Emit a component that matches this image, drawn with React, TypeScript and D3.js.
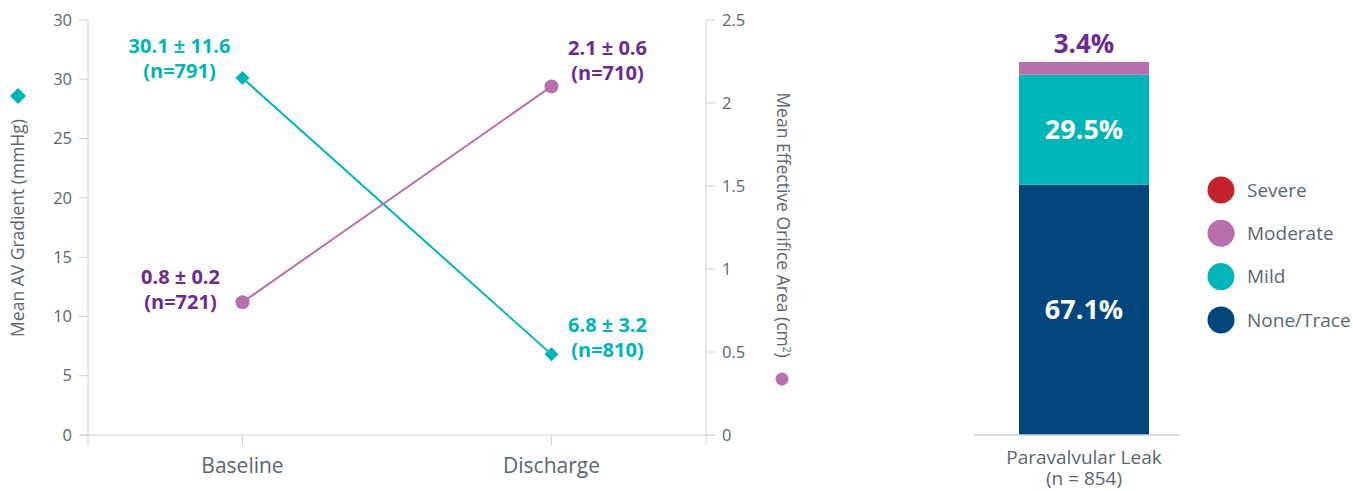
import React from "react";
import * as d3 from "d3";

const timepoints = ["Baseline", "Discharge"];
const gradientMean = [30.1, 6.8];
const gradientSD = [11.6, 3.2];
const gradientN = [791, 810];
const eoaMean = [0.8, 2.1];
const eoaSD = [0.2, 0.6];
const eoaN = [721, 710];
const leftTicks = [0, 5, 10, 15, 20, 25, 30, 35];
const leftTickLabels = ["0", "5", "10", "15", "20", "25", "30", "30"];
const rightTicks = [0, 0.5, 1, 1.5, 2, 2.5];
const rightTickLabels = ["0", "0.5", "1", "1.5", "2", "2.5"];

const pvlCategory = "Paravalvular Leak";
const pvlN = 854;
const pvlLevels = ["None/Trace", "Mild", "Moderate", "Severe"];
const pvlValues = [67.1, 29.5, 3.4, 0];
const legendOrder = ["Severe", "Moderate", "Mild", "None/Trace"];

const TEAL = "#00B5B8";
const PINK = "#B86FAD";
const PURPLE = "#6B2C8F";
const NAVY = "#00457C";
const RED = "#C4232B";
const GRAY = "#5B6670";
const AXIS = "#cfd2d5";
const FONT = "'Open Sans', 'Noto Sans', sans-serif";
const levelColor: Record<string, string> = {
  "None/Trace": NAVY,
  Mild: TEAL,
  Moderate: PINK,
  Severe: RED,
};

export default function App() {
  const W = 1353, H = 491;
  const x = d3.scalePoint<string>().domain(timepoints).range([88, 706]).padding(0.5);
  const yL = d3.scaleLinear().domain([0, 35]).range([435, 20]);
  const yR = d3.scaleLinear().domain([0, 2.5]).range([435, 20]);

  const lineL = d3.line<number>().x((_, i) => x(timepoints[i])!).y((d) => yL(d));
  const lineR = d3.line<number>().x((_, i) => x(timepoints[i])!).y((d) => yR(d));

  const xb = d3.scaleBand<string>().domain([pvlCategory]).range([974, 1194]).paddingInner(0.257).paddingOuter(0.257);
  const yb = d3.scaleLinear().domain([0, 100]).range([435, 62]);
  const stack = d3.stack<any>().keys(pvlLevels)([
    Object.fromEntries(pvlLevels.map((k, i) => [k, pvlValues[i]])),
  ]);

  const diamond = d3.symbol().type(d3.symbolDiamond2).size(125)()!;
  const diamondLegend = d3.symbol().type(d3.symbolDiamond2).size(165)()!;

  const gradOffsets = [
    { dx: -63, dy: -25 },
    { dx: 56, dy: -22 },
  ];
  const eoaOffsets = [
    { dx: -62, dy: -18 },
    { dx: 56, dy: -31 },
  ];

  return (
    <svg width={W} height={H} style={{ position: "absolute", left: 0, top: 0 }} fontFamily={FONT}>
      {/* Left axis */}
      <line x1={88} x2={88} y1={20} y2={446} stroke={AXIS} />
      {leftTicks.map((t, i) => (
        <g key={"l" + i}>
          <line x1={79} x2={88} y1={yL(t)} y2={yL(t)} stroke={AXIS} />
          <text x={72} y={yL(t)} dy="0.35em" textAnchor="end" fontSize={16.5} fill={GRAY}>
            {leftTickLabels[i]}
          </text>
        </g>
      ))}
      {/* Right axis */}
      <line x1={706} x2={706} y1={20} y2={446} stroke={AXIS} />
      {rightTicks.map((t, i) => (
        <g key={"r" + i}>
          <line x1={706} x2={715} y1={yR(t)} y2={yR(t)} stroke={AXIS} />
          <text x={722} y={yR(t)} dy="0.35em" textAnchor="start" fontSize={16.5} fill={GRAY}>
            {rightTickLabels[i]}
          </text>
        </g>
      ))}
      {/* Bottom axis */}
      <line x1={80} x2={714} y1={435} y2={435} stroke={AXIS} />
      {timepoints.map((c) => (
        <g key={c}>
          <line x1={x(c)} x2={x(c)} y1={435} y2={446} stroke={AXIS} />
          <text x={x(c)} y={473} textAnchor="middle" fontSize={21} fill={GRAY}>
            {c}
          </text>
        </g>
      ))}
      {/* Axis titles */}
      <text transform={`translate(24,228) rotate(-90)`} textAnchor="middle" fontSize={17.5} fill={GRAY}>
        Mean AV Gradient (mmHg)
      </text>
      <path d={diamondLegend} transform="translate(18,96)" fill={TEAL} />
      <text transform={`translate(777,225) rotate(90)`} textAnchor="middle" fontSize={17.5} fill={GRAY}>
        Mean Effective Orifice Area (cm<tspan dy={-6} fontSize={10}>2</tspan><tspan dy={6}>)</tspan>
      </text>
      <circle cx={782} cy={379} r={6.5} fill={PINK} />

      {/* Lines */}
      <path d={lineL(gradientMean)!} fill="none" stroke={TEAL} strokeWidth={2} />
      <path d={lineR(eoaMean)!} fill="none" stroke={PINK} strokeWidth={2} />
      {gradientMean.map((v, i) => (
        <path key={"d" + i} d={diamond} transform={`translate(${x(timepoints[i])},${yL(v)})`} fill={TEAL} />
      ))}
      {eoaMean.map((v, i) => (
        <circle key={"c" + i} cx={x(timepoints[i])} cy={yR(v)} r={7} fill={PINK} />
      ))}

      {/* Value labels */}
      {gradientMean.map((v, i) => {
        const cx = x(timepoints[i])! + gradOffsets[i].dx;
        const cy = yL(v) + gradOffsets[i].dy;
        return (
          <text key={"gl" + i} x={cx} textAnchor="middle" fontSize={20} fontWeight={700} fill={TEAL}>
            <tspan x={cx} y={cy}>{`${v.toFixed(1)} ± ${gradientSD[i].toFixed(1)}`}</tspan>
            <tspan x={cx} y={cy + 25}>{`(n=${gradientN[i]})`}</tspan>
          </text>
        );
      })}
      {eoaMean.map((v, i) => {
        const cx = x(timepoints[i])! + eoaOffsets[i].dx;
        const cy = yR(v) + eoaOffsets[i].dy;
        return (
          <text key={"el" + i} x={cx} textAnchor="middle" fontSize={20} fontWeight={700} fill={PURPLE}>
            <tspan x={cx} y={cy}>{`${v.toFixed(1)} ± ${eoaSD[i].toFixed(1)}`}</tspan>
            <tspan x={cx} y={cy + 25}>{`(n=${eoaN[i]})`}</tspan>
          </text>
        );
      })}

      {/* Stacked bar */}
      {stack.map((s) => {
        const d = s[0];
        if (d[1] - d[0] <= 0) return null;
        return (
          <rect
            key={s.key}
            x={xb(pvlCategory)}
            width={xb.bandwidth()}
            y={yb(d[1])}
            height={yb(d[0]) - yb(d[1])}
            fill={levelColor[s.key]}
          />
        );
      })}
      <line x1={974} x2={1180} y1={435} y2={435} stroke={AXIS} strokeWidth={1.5} />
      {stack.map((s, i) => {
        const d = s[0];
        if (d[1] - d[0] <= 0) return null;
        const cxb = xb(pvlCategory)! + xb.bandwidth() / 2;
        const small = d[1] - d[0] < 10;
        const yy = small ? yb(d[1]) - 9 : (yb(d[0]) + yb(d[1])) / 2 + 9;
        return (
          <text key={"bl" + s.key} x={cxb} y={yy} textAnchor="middle" fontSize={small ? 26 : 27} fontWeight={700} fill={small ? PURPLE : "#fff"}>
            {`${pvlValues[i].toFixed(1)}%`}
          </text>
        );
      })}
      <text x={1084} textAnchor="middle" fontSize={19} fill={GRAY}>
        <tspan x={1084} y={464}>{pvlCategory}</tspan>
        <tspan x={1084} y={485}>{`(n = ${pvlN})`}</tspan>
      </text>

      {/* Legend */}
      {legendOrder.map((k, i) => (
        <g key={"lg" + k} transform={`translate(1221,${190 + i * 43.3})`}>
          <circle r={13.5} fill={levelColor[k]} />
          <text x={26} dy="0.35em" fontSize={19} fill={GRAY}>{k}</text>
        </g>
      ))}
    </svg>
  );
}
